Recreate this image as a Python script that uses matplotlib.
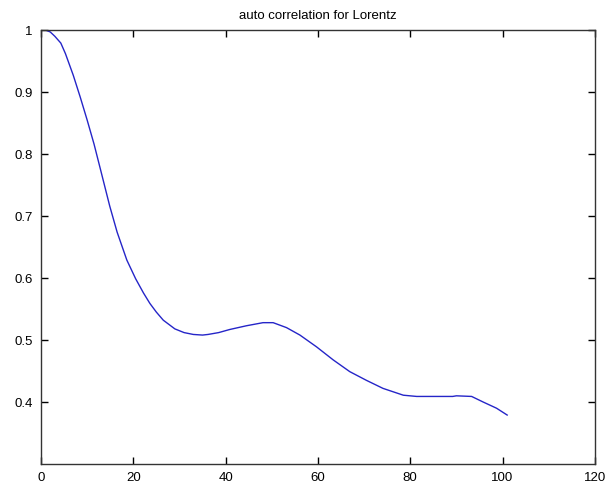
import matplotlib
matplotlib.use("Agg")
import matplotlib.pyplot as plt
from matplotlib.ticker import FormatStrFormatter

# lag values and autocorrelation
lags = [1, 2, 3, 4.3, 5.3, 7, 8.5, 10, 11.5, 13, 14.9, 16.5, 18.6, 20.5, 22.2,
        23.6, 25, 26.5, 29, 31, 33, 35, 36.2, 38.5, 40.9, 44.5, 48.1, 50.3,
        53.2, 56.1, 59.7, 63.3, 66.9, 70.5, 74.1, 78.5, 81.4, 85, 89.2, 90,
        93.3, 95.8, 98.7, 101]
acf = [1.0, 0.997, 0.99, 0.979, 0.962, 0.927, 0.892, 0.855, 0.816, 0.772,
       0.716, 0.674, 0.629, 0.599, 0.576, 0.559, 0.545, 0.532, 0.518, 0.512,
       0.509, 0.508, 0.509, 0.512, 0.517, 0.523, 0.528, 0.528, 0.52, 0.508,
       0.489, 0.468, 0.449, 0.435, 0.422, 0.411, 0.409, 0.409, 0.409, 0.41,
       0.409, 0.40, 0.39, 0.379]

xticks = [0, 20, 40, 60, 80, 100, 120]
yticks = [0.4, 0.5, 0.6, 0.7, 0.8, 0.9, 1.0]

plt.rcParams['font.family'] = ['Liberation Sans', 'DejaVu Sans']

fig = plt.figure(figsize=(6.07, 4.93), dpi=100)
fig.patch.set_facecolor("white")
ax = fig.add_axes([0.0675, 0.0588, 0.9125, 0.8802])

ax.plot(lags, acf, color="#2525c8", linewidth=1.0)

ax.set_xlim(0, 120)
ax.set_ylim(0.3, 1.0)
ax.set_xticks(xticks)
ax.set_yticks(yticks)
ax.yaxis.set_major_formatter(FormatStrFormatter("%g"))
ax.tick_params(direction="in", length=5, width=1, top=True, right=True,
               labelsize=9.5, colors="black", pad=6)
for s in ax.spines.values():
    s.set_linewidth(1.0)
    s.set_color("#333333")

ax.set_title("auto correlation for Lorentz", fontsize=9.5, pad=8)

plt.savefig("out.png", dpi=100)
